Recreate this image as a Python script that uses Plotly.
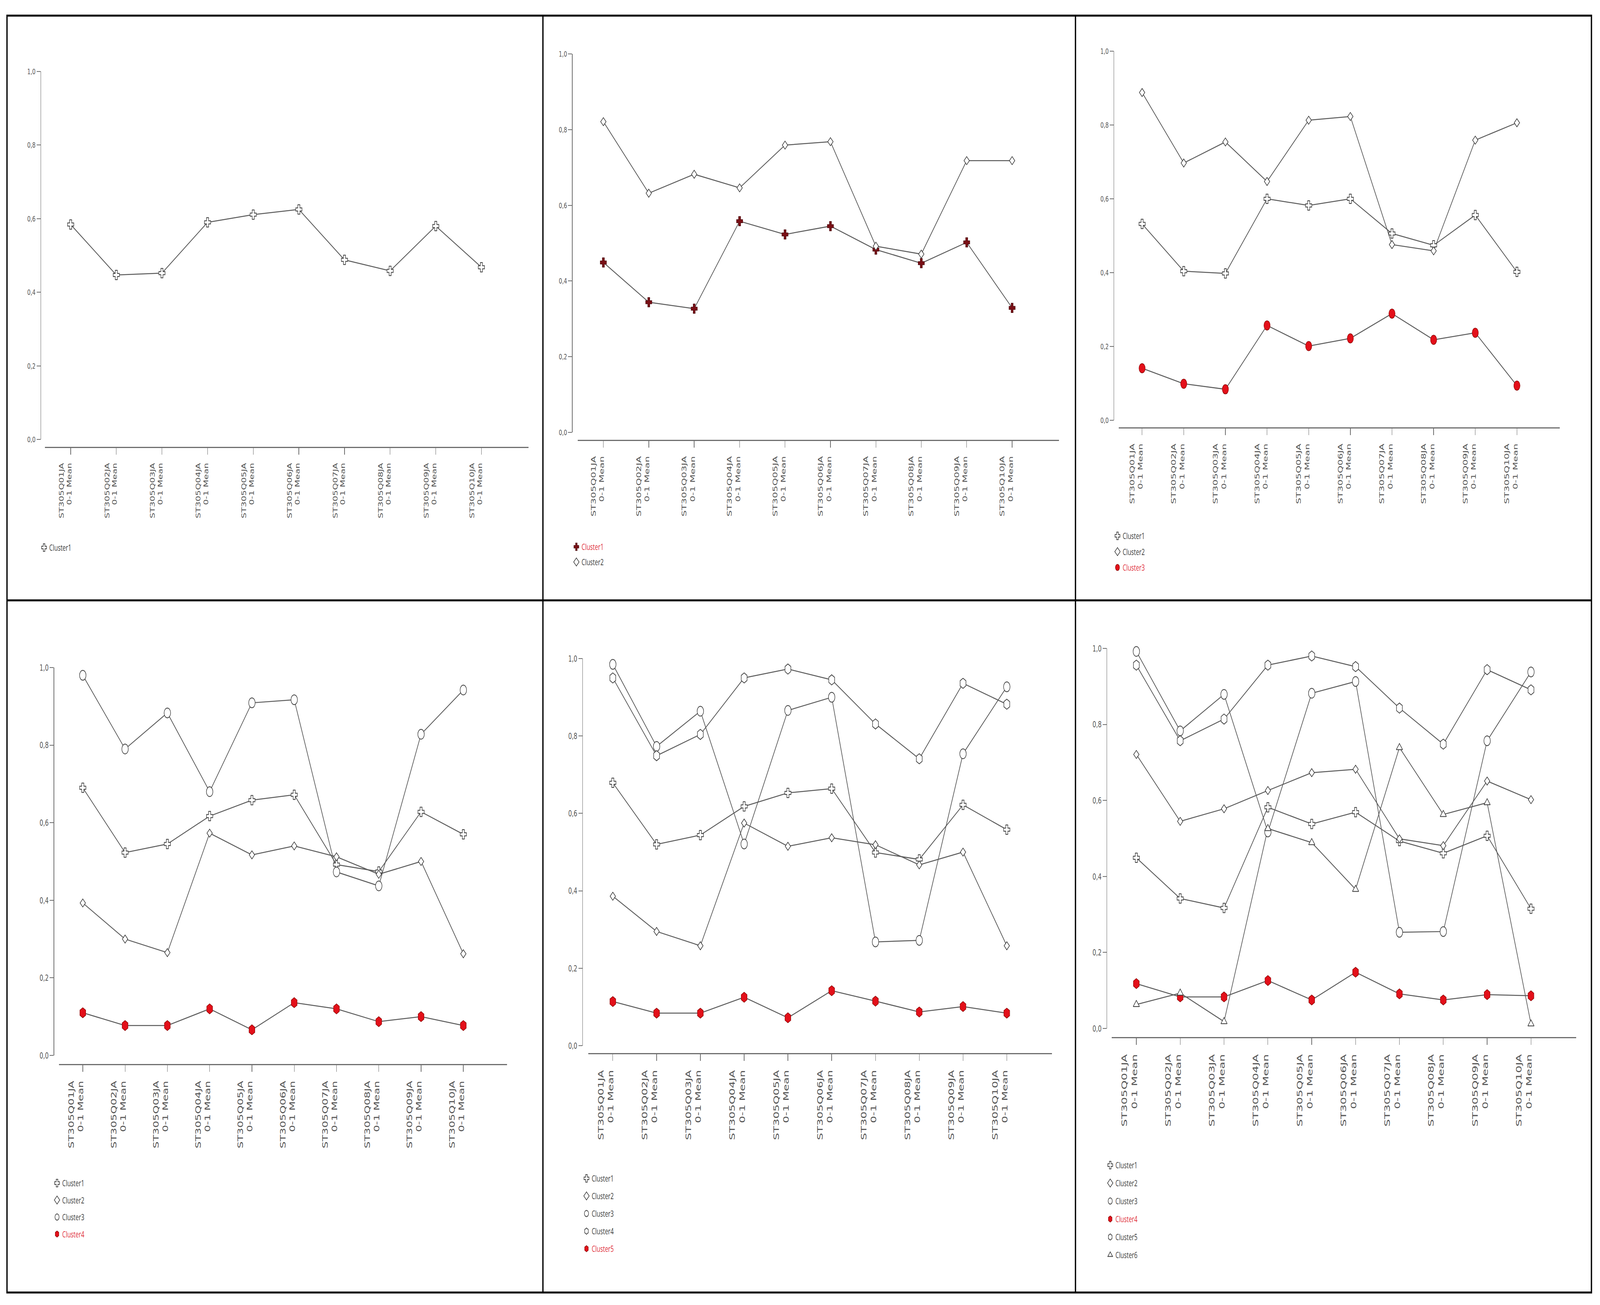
import plotly.graph_objects as go

W, H = 6171, 3341

# ---------------- data ----------------
categories = ["ST305Q01JA", "ST305Q02JA", "ST305Q03JA", "ST305Q04JA", "ST305Q05JA",
              "ST305Q06JA", "ST305Q07JA", "ST305Q08JA", "ST305Q09JA", "ST305Q10JA"]
category_suffix = "0-1 Mean"
y_ticks = [0.0, 0.2, 0.4, 0.6, 0.8, 1.0]

p1_cluster1 = [0.584, 0.447, 0.452, 0.590, 0.611, 0.625, 0.488, 0.458, 0.580, 0.468]

p2_cluster1 = [0.449, 0.344, 0.327, 0.558, 0.523, 0.545, 0.483, 0.447, 0.502, 0.329]
p2_cluster2 = [0.821, 0.632, 0.682, 0.646, 0.759, 0.768, 0.492, 0.471, 0.718, 0.718]

p3_cluster1 = [0.532, 0.404, 0.398, 0.600, 0.582, 0.600, 0.506, 0.474, 0.556, 0.402]
p3_cluster2 = [0.888, 0.697, 0.754, 0.647, 0.813, 0.823, 0.476, 0.459, 0.759, 0.806]
p3_cluster3 = [0.141, 0.099, 0.084, 0.257, 0.201, 0.222, 0.289, 0.218, 0.237, 0.094]

p4_cluster1 = [0.690, 0.523, 0.545, 0.617, 0.658, 0.672, 0.492, 0.474, 0.628, 0.570]
p4_cluster2 = [0.393, 0.300, 0.265, 0.573, 0.517, 0.540, 0.512, 0.467, 0.500, 0.262]
p4_cluster3 = [0.980, 0.790, 0.883, 0.680, 0.909, 0.917, 0.473, 0.437, 0.828, 0.942]
p4_cluster4 = [0.110, 0.077, 0.077, 0.120, 0.066, 0.136, 0.120, 0.087, 0.100, 0.077]

p5_cluster1 = [0.679, 0.520, 0.544, 0.618, 0.653, 0.664, 0.499, 0.481, 0.622, 0.558]
p5_cluster2 = [0.386, 0.295, 0.258, 0.575, 0.515, 0.537, 0.519, 0.467, 0.500, 0.258]
p5_cluster3 = [0.985, 0.773, 0.864, 0.521, 0.866, 0.900, 0.268, 0.272, 0.754, 0.927]
p5_cluster4 = [0.950, 0.749, 0.804, 0.950, 0.973, 0.945, 0.831, 0.741, 0.936, 0.882]
p5_cluster5 = [0.114, 0.084, 0.084, 0.125, 0.072, 0.142, 0.115, 0.087, 0.101, 0.084]

p6_cluster1 = [0.449, 0.342, 0.317, 0.582, 0.538, 0.569, 0.493, 0.461, 0.507, 0.315]
p6_cluster2 = [0.721, 0.545, 0.578, 0.626, 0.673, 0.682, 0.499, 0.481, 0.651, 0.602]
p6_cluster3 = [0.992, 0.783, 0.879, 0.517, 0.882, 0.913, 0.253, 0.255, 0.757, 0.938]
p6_cluster4 = [0.118, 0.083, 0.083, 0.126, 0.075, 0.148, 0.091, 0.075, 0.089, 0.086]
p6_cluster5 = [0.956, 0.757, 0.814, 0.956, 0.980, 0.952, 0.843, 0.748, 0.944, 0.891]
p6_cluster6 = [0.063, 0.093, 0.018, 0.526, 0.489, 0.366, 0.739, 0.563, 0.594, 0.012]

tick_labels = [f"{c}<br>{category_suffix}" for c in categories]

# ---------------- styles ----------------
OUT = "#3a3a3a"
RED = "#e3101a"
STYLES = {
    "cross": dict(symbol="cross", size=20, color="white", line=dict(color=OUT, width=2)),
    "cross_dark": dict(symbol="cross", size=20, color="#7a0f16", line=dict(color="#4a050a", width=1.5)),
    "diamond": dict(symbol="diamond", size=16, color="white", line=dict(color=OUT, width=2)),
    "circle": dict(symbol="circle", size=25, color="white", line=dict(color=OUT, width=2)),
    "circle_red": dict(symbol="circle", size=24, color=RED, line=dict(color="#8a0000", width=1.5)),
    "hex_red": dict(symbol="hexagon", size=26, color=RED, line=dict(color="#8a0000", width=1.5)),
    "hex": dict(symbol="hexagon", size=26, color="white", line=dict(color=OUT, width=2)),
    "triangle": dict(symbol="triangle-up", size=21, color="white", line=dict(color=OUT, width=2)),
}

panels = [
    dict(series=[("Cluster1", p1_cluster1, "cross", False)],
         yx=157, y1=183, y0=1125, xl=174, xr=2038, xy=1145, xf=23, yf=20,
         lx=190, ly=1402, lsp=40),
    dict(series=[("Cluster1", p2_cluster1, "cross_dark", True),
                 ("Cluster2", p2_cluster2, "diamond", False)],
         yx=2207, y1=138, y0=1107, xl=2229, xr=4084, xy=1127, xf=25, yf=20,
         lx=2243, ly=1400, lsp=39),
    dict(series=[("Cluster1", p3_cluster1, "cross", False),
                 ("Cluster2", p3_cluster2, "diamond", False),
                 ("Cluster3", p3_cluster3, "circle_red", True)],
         yx=4296, y1=131, y0=1076, xl=4315, xr=6016, xy=1095, xf=25, yf=20,
         lx=4330, ly=1372, lsp=40.5),
    dict(series=[("Cluster1", p4_cluster1, "cross", False),
                 ("Cluster2", p4_cluster2, "diamond", False),
                 ("Cluster3", p4_cluster3, "circle", False),
                 ("Cluster4", p4_cluster4, "hex_red", True)],
         yx=208, y1=1709, y0=2702, xl=228, xr=1955, xy=2725, xf=28, yf=22,
         lx=240, ly=3029, lsp=43.5),
    dict(series=[("Cluster1", p5_cluster1, "cross", False),
                 ("Cluster2", p5_cluster2, "diamond", False),
                 ("Cluster3", p5_cluster3, "circle", False),
                 ("Cluster4", p5_cluster4, "hex", False),
                 ("Cluster5", p5_cluster5, "hex_red", True)],
         yx=2247, y1=1686, y0=2677, xl=2269, xr=4057, xy=2697, xf=29, yf=22,
         lx=2282, ly=3017, lsp=45),
    dict(series=[("Cluster1", p6_cluster1, "cross", False),
                 ("Cluster2", p6_cluster2, "diamond", False),
                 ("Cluster3", p6_cluster3, "circle", False),
                 ("Cluster4", p6_cluster4, "hex_red", True),
                 ("Cluster5", p6_cluster5, "hex", False),
                 ("Cluster6", p6_cluster6, "triangle", False)],
         yx=4269, y1=1660, y0=2633, xl=4288, xr=6079, xy=2656, xf=30, yf=22,
         lx=4302, ly=2983, lsp=46),
]


def fx(px):
    return px / W


def fy(py):
    return 1 - py / H


LINE_COLOR = "#5a5a5a"
AXIS_COLOR = "#6e6e6e"
TEXT_COLOR = "#555555"
LEG_FONT = 22

fig = go.Figure()
layout = dict(
    width=W, height=H, autosize=False,
    margin=dict(l=0, r=0, t=0, b=0, pad=0),
    template="none",
    paper_bgcolor="white", plot_bgcolor="rgba(0,0,0,0)",
    separators=",.",
    hovermode=False,
)

for i, p in enumerate(panels, start=1):
    xk = "xaxis" if i == 1 else f"xaxis{i}"
    yk = "yaxis" if i == 1 else f"yaxis{i}"
    xr = "x" if i == 1 else f"x{i}"
    yr = "y" if i == 1 else f"y{i}"
    lk = "legend" if i == 1 else f"legend{i}"

    # lines first
    for name, vals, sty, hl in p["series"]:
        fig.add_trace(go.Scatter(
            x=tick_labels, y=vals, mode="lines", xaxis=xr, yaxis=yr,
            line=dict(color=LINE_COLOR, width=2.5), showlegend=False,
            legend=lk, legendgroup=f"p{i}{name}", cliponaxis=False, hoverinfo="skip"))
    # markers on top
    for name, vals, sty, hl in p["series"]:
        label = f"<span style='color:#e0303c'>{name}</span>" if hl else name
        fig.add_trace(go.Scatter(
            x=tick_labels, y=vals, mode="markers", xaxis=xr, yaxis=yr,
            marker=STYLES[sty], name=label, showlegend=True,
            legend=lk, legendgroup=f"p{i}{name}", cliponaxis=False, hoverinfo="skip"))

    layout[xk] = dict(
        domain=[fx(p["xl"]), fx(p["xr"])], anchor="free", position=fy(p["xy"]),
        type="category", categoryorder="array", categoryarray=tick_labels,
        range=[-0.56, 10.03], showline=True, linecolor=AXIS_COLOR, linewidth=3,
        ticks="outside", ticklen=17, tickwidth=2, tickcolor=AXIS_COLOR,
        tickangle=-90, tickfont=dict(family="DejaVu Sans", size=p["xf"], color=TEXT_COLOR),
        ticklabelstandoff=12, ticklabelshift=-int(0.9 * p["xf"]),
        showgrid=False, zeroline=False, automargin=False, fixedrange=True,
    )
    layout[yk] = dict(
        domain=[fy(p["y0"]), fy(p["y1"])], anchor="free", position=fx(p["yx"]),
        range=[0, 1], tickmode="array", tickvals=y_ticks, tickformat=".1f",
        showline=True, linecolor=AXIS_COLOR, linewidth=2,
        ticks="outside", ticklen=15, tickwidth=2, tickcolor=AXIS_COLOR,
        tickfont=dict(family="DejaVu Sans", size=p["yf"], color=TEXT_COLOR),
        showgrid=False, zeroline=False, automargin=False, fixedrange=True,
    )
    item_h = LEG_FONT * 1.3 + 3
    layout[lk] = dict(
        x=fx(p["lx"] - 40), y=fy(p["ly"] - 21), xanchor="left", yanchor="top",
        font=dict(family="Open Sans", size=LEG_FONT, color="#3c3c3c"),
        bgcolor="rgba(0,0,0,0)", borderwidth=0,
        tracegroupgap=max(0, p["lsp"] - item_h), traceorder="grouped",
        itemclick=False, itemdoubleclick=False,
    )

# table border lines
BX0, BX1, BY0, BY1 = 27, 6138, 40, 3309
VX = [2094, 4148]
HY = 1537
shapes = [dict(type="rect", xref="paper", yref="paper", x0=fx(BX0), x1=fx(BX1),
               y0=fy(BY1), y1=fy(BY0), line=dict(color="black", width=5))]
for vx in VX:
    shapes.append(dict(type="line", xref="paper", yref="paper", x0=fx(vx), x1=fx(vx),
                       y0=fy(BY1), y1=fy(BY0), line=dict(color="black", width=5)))
shapes.append(dict(type="line", xref="paper", yref="paper", x0=fx(BX0), x1=fx(BX1),
                   y0=fy(HY), y1=fy(HY), line=dict(color="black", width=5)))
layout["shapes"] = shapes

fig.update_layout(**layout)

# stretch the fixed-size figure so that it exactly fills the browser viewport
FIT_JS = """
(function(){
  var gd = document.getElementById('{plot_id}');
  var FW = %d, FH = %d;
  document.documentElement.style.margin = '0';
  document.documentElement.style.overflow = 'hidden';
  document.body.style.margin = '0';
  document.body.style.overflow = 'hidden';
  var vw = window.innerWidth, vh = window.innerHeight;
  var sx = vw / FW, sy = vh / FH;
  if (!(sx > 0)) { sx = 1; }
  if (!(sy > 0)) { sy = 1; }
  var wrap = gd.parentElement;
  wrap.style.width = (FW * sx) + 'px';
  wrap.style.height = (FH * sy) + 'px';
  wrap.style.overflow = 'hidden';
  gd.style.transformOrigin = '0 0';
  gd.style.transform = 'scale(' + sx + ',' + sy + ')';
})();
""" % (W, H)

fig.write_html("out.html", config={"displayModeBar": False}, post_script=FIT_JS)
